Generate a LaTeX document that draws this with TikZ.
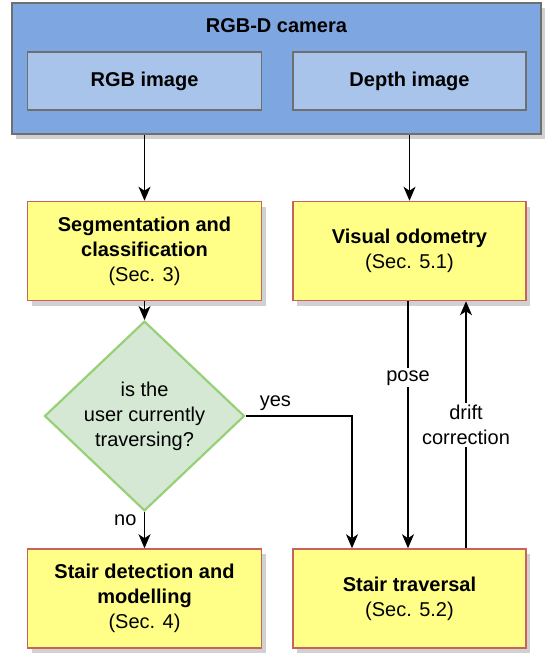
\documentclass[tikz,border=0pt]{standalone}
\usepackage{fontspec}
\setmainfont{Liberation Sans}
\usetikzlibrary{shapes.geometric,shadows,arrows.meta}
\definecolor{camblue}{HTML}{7EA6E0}
\definecolor{imgblue}{HTML}{A9C4EB}
\definecolor{boxgray}{HTML}{6F6F6F}
\definecolor{stepyellow}{HTML}{FFFF88}
\definecolor{stepred}{HTML}{C8625D}
\definecolor{askgreen}{HTML}{D5E8D4}
\definecolor{askline}{HTML}{97D077}
\begin{document}
\begin{tikzpicture}
[x=1pt, y=-1pt, font=\fontsize{20}{25}\selectfont]
\tikzstyle{shade}=[drop shadow={shadow xshift=4pt, shadow yshift=-5pt, fill=black!18, opacity=1}]
\tikzstyle{camera}=[rectangle, draw=boxgray, line width=1.5pt, fill=camblue, minimum width=529pt, minimum height=131pt, shade]
\tikzstyle{image}=[rectangle, draw=boxgray, line width=1.5pt, fill=imgblue, minimum height=58pt, font=\fontsize{20}{25}\selectfont\bfseries]
\tikzstyle{stage}=[rectangle, draw=stepred, line width=1.5pt, fill=stepyellow, minimum height=99pt, align=center, shade]
\tikzstyle{ask}=[diamond, draw=askline, line width=2.2pt, fill=askgreen, minimum width=200pt, minimum height=132pt, inner sep=0pt, align=center]
\tikzstyle{arrow}=[line width=1.4pt, -{Stealth[length=14pt, width=12pt, inset=4pt]}]
\useasboundingbox (0,0) rectangle (545,654);

% camera and its two images
\node[camera]	(cam)	at (276.5,68.5)	{};
\node		(camtitle)	at (276.5,26) {\textbf{RGB-D camera}};
\node[image, minimum width=234pt]	(rgb)	at (144.5,81)	{RGB image};
\node[image, minimum width=233pt]	(depth)	at (409.5,81)	{Depth image};

% processing stages
\node[stage, minimum width=234pt]	(seg)	at (144.5,251)	{\textbf{Segmentation and}\\\textbf{classification}\\(Sec. 3)};
\node[stage, minimum width=233pt]	(odo)	at (409.5,251)	{\textbf{Visual odometry}\\(Sec. 5.1)};
\node[ask]	(trav?)	at (144.5,416)	{is the\\user currently\\traversing?};
\node[stage, minimum width=234pt]	(det)	at (144.5,598.5)	{\textbf{Stair detection and}\\\textbf{modelling}\\(Sec. 4)};
\node[stage, minimum width=233pt]	(trav)	at (409.5,598.5)	{\textbf{Stair traversal}\\(Sec. 5.2)};

\draw[arrow]	(cam.south -| seg.north) -- (seg.north);
\draw[arrow]	(cam.south -| odo.north) -- (odo.north);
\draw[arrow]	(seg.south) -- (trav?.north);
\draw[arrow]	(trav?.south) -- node[pos=0.24, left=4pt] {no} (det.north);
\draw[arrow]	(trav?.east) -| node[pos=0.14, above=1pt] {yes} ([xshift=-57.5pt]trav.north);
\draw[arrow]	([xshift=-1.5pt]odo.south) -- node[pos=0.31, fill=white, inner sep=2pt] {pose} ([xshift=-1.5pt]trav.north);
\draw[arrow]	([xshift=56.5pt]trav.north) -- node[fill=white, align=center, inner sep=2pt] {drift\\correction} ([xshift=56.5pt]odo.south);
\end{tikzpicture}
\end{document}
